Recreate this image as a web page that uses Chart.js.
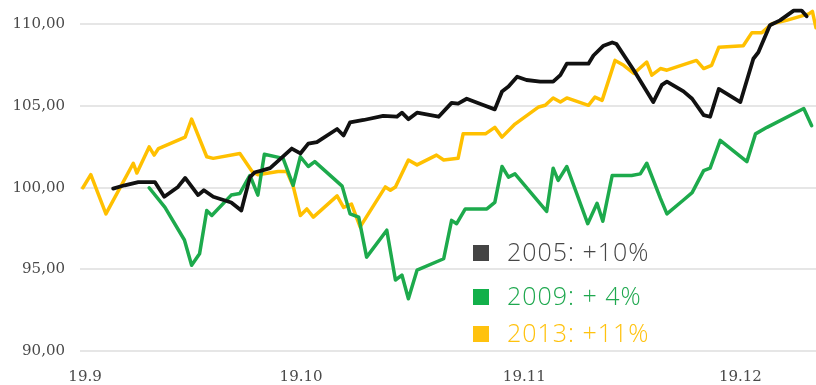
<!DOCTYPE html>
<html>
<head>
<meta charset="utf-8">
<script src="https://cdn.jsdelivr.net/npm/chart.js@4.4.1/dist/chart.umd.min.js"></script>
<style>
  html, body { margin: 0; padding: 0; background: #fff; overflow: hidden; }
  #myChart { display: block; }
</style>
</head>
<body>
<canvas id="myChart" width="816" height="385"></canvas>
<script>
// days counted from 19.9, index value (start = 100)
const days2005 = [3.9, 5.5, 7.4, 9.7, 11.0, 12.9, 13.9, 15.7, 16.5, 17.8, 20.3, 21.7, 22.9, 23.6, 24.5, 25.7,
    28.7, 29.9, 31.0, 32.2, 35.0, 35.9, 36.8, 38.7, 41.4, 43.3, 44.0, 44.9, 46.1, 49.1, 50.9, 51.8, 53.0,
    55.1, 56.9, 57.9, 58.8, 60.0, 61.3, 63.2, 65.0, 66.0, 66.9, 69.9, 70.6, 72.0, 73.2, 73.8, 76.2, 78.9,
    80.1, 80.8, 83.1, 84.3, 85.9, 86.8, 88.0, 91.0, 92.8, 93.5, 95.1, 96.5, 98.4, 99.5, 100.2];
const values2005 = [99.95, 100.15, 100.35, 100.35, 99.45, 100.05, 100.6, 99.55, 99.85, 99.45, 99.1, 98.6, 100.65, 100.95, 101.05, 101.2,
    102.4, 102.1, 102.7, 102.8, 103.6, 103.2, 104.0, 104.15, 104.4, 104.35, 104.6, 104.2, 104.6, 104.35, 105.2, 105.15, 105.45,
    105.1, 104.8, 105.9, 106.2, 106.8, 106.6, 106.5, 106.5, 106.9, 107.6, 107.6, 108.1, 108.7, 108.9, 108.8, 107.2, 105.25,
    106.3, 106.5, 105.9, 105.45, 104.45, 104.35, 106.05, 105.25, 107.9, 108.3, 109.95, 110.25, 110.85, 110.85, 110.5];

const days2009 = [8.9, 11.1, 13.8, 14.8, 15.9, 16.9, 17.6, 20.3, 21.5, 22.5, 22.9, 24.0, 24.9, 27.5, 28.9, 29.9,
    31.0, 31.9, 35.7, 36.8, 38.0, 39.1, 41.9, 43.1, 44.0, 44.9, 46.1, 49.8, 50.9, 51.6, 52.8, 55.8, 56.9,
    57.9, 58.8, 59.7, 64.1, 65.0, 65.7, 66.9, 69.8, 71.1, 71.9, 73.2, 75.9, 77.1, 78.0, 79.9, 80.8, 83.1,
    84.3, 85.9, 86.8, 88.2, 91.9, 93.1, 94.7, 99.8, 100.9];
const values2009 = [100.0, 98.8, 96.8, 95.25, 95.95, 98.6, 98.3, 99.55, 99.65, 100.45, 100.75, 99.55, 102.05, 101.8, 100.15, 101.9,
    101.3, 101.6, 100.1, 98.4, 98.2, 95.75, 97.4, 94.35, 94.65, 93.2, 94.95, 95.65, 98.0, 97.8, 98.7, 98.7, 99.1,
    101.3, 100.65, 100.85, 98.55, 101.2, 100.45, 101.3, 97.8, 99.05, 97.95, 100.75, 100.75, 100.85, 101.5, 99.35, 98.4, 99.25,
    99.7, 101.05, 101.2, 102.9, 101.6, 103.3, 103.7, 104.85, 103.8];

const days2013 = [-0.3, 0.8, 2.9, 6.7, 7.2, 8.9, 9.6, 10.2, 13.9, 14.8, 16.9, 17.8, 21.5, 23.2, 24.0, 26.8,
    28.0, 28.9, 29.9, 30.8, 31.7, 35.0, 35.9, 37.0, 38.2, 41.7, 42.4, 43.1, 44.9, 46.1, 48.8, 49.8, 51.8,
    52.5, 55.6, 56.9, 57.9, 59.7, 63.0, 63.9, 65.0, 66.0, 66.9, 69.9, 70.8, 71.8, 73.6, 74.8, 76.2, 78.0,
    78.7, 79.9, 80.8, 84.9, 85.9, 87.0, 88.0, 91.4, 92.6, 94.0, 95.4, 97.4, 100.5, 101.0, 101.5];
const values2013 = [100.0, 100.8, 98.4, 101.5, 100.9, 102.5, 102.0, 102.4, 103.1, 104.2, 101.9, 101.8, 102.1, 101.0, 100.8, 101.0,
    101.0, 100.1, 98.3, 98.7, 98.2, 99.5, 98.8, 99.0, 97.6, 100.05, 99.85, 100.05, 101.7, 101.4, 102.0, 101.7, 101.8,
    103.3, 103.3, 103.7, 103.1, 103.9, 104.95, 105.05, 105.5, 105.25, 105.5, 105.05, 105.55, 105.35, 107.8, 107.5, 107.0, 107.7,
    106.9, 107.3, 107.2, 107.8, 107.3, 107.5, 108.6, 108.7, 109.5, 109.5, 110.05, 110.25, 110.65, 110.8, 109.8];

const seriesLabels = ['2005: +10%', '2009: + 4%', '2013: +11%'];
const tickDays = [0, 30, 61, 91];
const tickLabels = ['19.9', '19.10', '19.11', '19.12'];
const yTicks = [90, 95, 100, 105, 110];

const toPoints = (days, values) => days.map((d, i) => ({ x: d, y: values[i] }));

// legend drawn inside the plot, a square and a coloured label per series
const insideLegend = {
    id: 'insideLegend',
    afterDraw(chart) {
        const c = chart.ctx;
        const rows = [253, 297, 334];
        const textColors = ['#474747', '#1fa84f', '#ffc20e'];
        const boxColors = ['#444444', '#12b04a', '#ffc20e'];
        c.save();
        c.font = '300 25px "Open Sans"';
        c.letterSpacing = '1px';
        c.textBaseline = 'middle';
        chart.data.datasets.forEach((ds, i) => {
            c.fillStyle = boxColors[i];
            c.fillRect(473, rows[i] - 8, 16, 16);
            c.fillStyle = textColors[i];
            c.fillText(ds.label, 507, rows[i] + 1);
        });
        c.restore();
    }
};

const ctx = document.getElementById('myChart').getContext('2d');
let myChart = new Chart(ctx, {
    type: 'line',
    data: {
        datasets: [{
            label: seriesLabels[0],
            data: toPoints(days2005, values2005),
            borderColor: '#111111',
            borderWidth: 3.8
        }, {
            label: seriesLabels[1],
            data: toPoints(days2009, values2009),
            borderColor: '#1daa4c',
            borderWidth: 3.5
        }, {
            label: seriesLabels[2],
            data: toPoints(days2013, values2013),
            borderColor: '#ffc000',
            borderWidth: 3.5
        }]
    },
    options: {
        responsive: false,
        animation: false,
        layout: { padding: 0 },
        elements: {
            point: { radius: 0 },
            line: { tension: 0, borderJoinStyle: 'round', borderCapStyle: 'round' }
        },
        plugins: {
            legend: { display: false },
            tooltip: { enabled: false }
        },
        scales: {
            x: {
                type: 'linear',
                min: -0.7,
                max: 101.5,
                afterBuildTicks: (scale) => { scale.ticks = tickDays.map(v => ({ value: v })); },
                afterFit: (scale) => {
                    scale.height = 34;
                    scale.paddingLeft = 0;
                    scale.paddingRight = 0;
                },
                grid: { display: false, drawTicks: false },
                border: { display: false },
                ticks: {
                    padding: 17,
                    maxRotation: 0,
                    autoSkip: false,
                    color: '#4a4a4a',
                    font: { family: 'DejaVu Serif', size: 15 },
                    callback: (v) => tickLabels[tickDays.indexOf(v)]
                }
            },
            y: {
                min: 90,
                max: 111.5,
                afterBuildTicks: (scale) => { scale.ticks = yTicks.map(v => ({ value: v })); },
                afterFit: (scale) => {
                    scale.width = 80;
                    scale.paddingTop = 0;
                    scale.paddingBottom = 0;
                },
                grid: { color: '#e6e6e6', lineWidth: 2, drawTicks: false },
                border: { display: false },
                ticks: {
                    padding: 15,
                    color: '#4a4a4a',
                    font: { family: 'DejaVu Serif', size: 15 },
                    callback: (v) => v.toFixed(2).replace('.', ',')
                }
            }
        }
    },
    plugins: [insideLegend]
});
</script>
</body>
</html>
